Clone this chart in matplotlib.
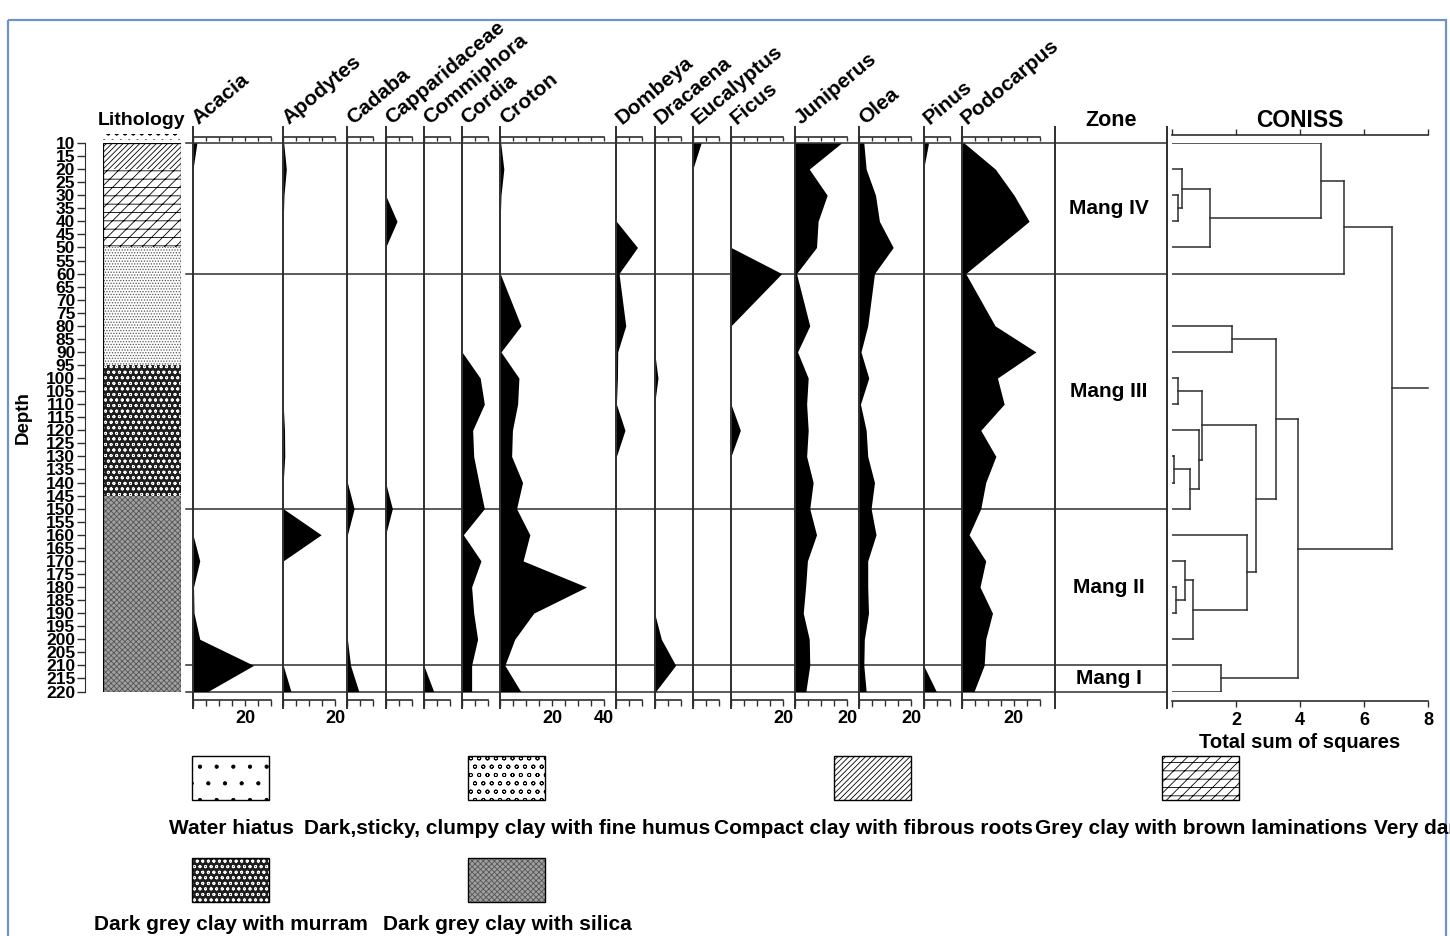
import matplotlib
matplotlib.use('Agg')
import matplotlib.pyplot as plt
from matplotlib.patches import Rectangle
from matplotlib.ticker import MultipleLocator, FuncFormatter

plt.rcParams['font.family'] = ['Liberation Sans', 'DejaVu Sans']
plt.rcParams['font.weight'] = 'bold'
plt.rcParams['axes.labelweight'] = 'bold'
plt.rcParams['hatch.linewidth'] = 0.6

# ---- data -------------------------------------------------------------
# sample depths (cm), there is no sample at 70 cm
depths = [10, 20, 30, 40, 50, 60, 80, 90, 100, 110, 120, 130, 140, 150,
          160, 170, 180, 190, 200, 210, 220]

taxa = ['Acacia', 'Apodytes', 'Cadaba', 'Capparidaceae', 'Commiphora',
        'Cordia', 'Croton', 'Dombeya', 'Dracaena', 'Eucalyptus', 'Ficus',
        'Juniperus', 'Olea', 'Pinus', 'Podocarpus']
axis_max = [30, 20, 10, 10, 10, 10, 40, 10, 10, 10, 20, 20, 20, 10, 30]

acacia = [1.5, 0, 0, 0, 0, 0, 0, 0, 0, 0, 0, 0, 0, 0, 0, 2.6, 0.2, 0.4, 2.6, 23.3, 5.7]
apodytes = [0.2, 1.2, 0.3, 0, 0, 0, 0, 0, 0, 0, 0.5, 0.6, 0, 0, 14.6, 0, 0, 0, 0, 0, 3.0]
cadaba = [0, 0, 0, 0, 0, 0, 0, 0, 0, 0, 0, 0, 0, 2.6, 0, 0, 0, 0, 0, 1.2, 4.4]
capparidaceae = [0, 0, 0, 4.4, 0, 0, 0, 0, 0, 0, 0, 0, 0, 2.6, 0, 0, 0, 0, 0, 0, 0]
commiphora = [0, 0, 0, 0, 0, 0, 0, 0, 0, 0, 0, 0, 0, 0, 0, 0, 0, 0, 0, 0, 3.8]
cordia = [0, 0, 0, 0, 0, 0, 0, 0, 7.0, 8.6, 4.1, 4.5, 6.5, 8.6, 0.5, 7.3, 3.7, 4.5, 6.0, 3.7, 3.7]
croton = [0.2, 1.4, 0.3, 0, 0, 0, 8.0, 0.3, 7.2, 6.7, 4.7, 4.4, 8.6, 6.3, 11.4, 8.8, 33.2, 12.9, 5.6, 1.8, 7.9]
dombeya = [0, 0, 0, 0, 8.1, 1.0, 3.6, 0.5, 0.4, 0, 3.3, 0, 0, 0, 0, 0, 0, 0, 0, 0, 0]
dracaena = [0, 0, 0, 0, 0, 0, 0, 0, 1.3, 0, 0, 0, 0, 0, 0, 0, 0, 0, 2.6, 8.1, 0.4]
eucalyptus = [3.2, 0, 0, 0, 0, 0, 0, 0, 0, 0, 0, 0, 0, 0, 0, 0, 0, 0, 0, 0, 0]
ficus = [0, 0, 0, 0, 0, 19.5, 0, 0, 0, 0, 3.6, 0, 0, 0, 0, 0, 0, 0, 0, 0, 0]
juniperus = [17.8, 5.4, 12.3, 8.8, 8.2, 0.5, 5.6, 0.9, 5.0, 4.4, 5.0, 4.4, 6.9, 5.6, 8.2, 4.7, 4.0, 3.1, 5.4, 5.6, 4.1]
olea = [1.7, 2.6, 6.2, 7.7, 13.0, 5.8, 3.2, 0.6, 3.6, 0.4, 2.6, 3.2, 5.8, 4.5, 6.4, 3.2, 3.2, 3.5, 1.9, 1.7, 2.6]
pinus = [1.9, 0, 0, 0, 0, 0, 0, 0, 0, 0, 0, 0, 0, 0, 0, 0, 0, 0, 0, 0, 4.9]
podocarpus = [0.9, 12.9, 20.1, 25.9, 13.7, 1.5, 12.8, 28.5, 13.7, 16.3, 7.3, 13.1, 9.2, 7.3, 2.8, 9.2, 7.0, 11.8, 9.2, 8.6, 4.7]

counts = [acacia, apodytes, cadaba, capparidaceae, commiphora, cordia, croton,
          dombeya, dracaena, eucalyptus, ficus, juniperus, olea, pinus, podocarpus]

# zones
zone_bounds = [10, 60, 150, 210, 220]
zone_names = ['Mang IV', 'Mang III', 'Mang II', 'Mang I']

# lithology
lith_top = [6.5, 10, 20, 50, 95, 145]
lith_base = [9, 20, 50, 95, 145, 220]
lith_type = ['clumpy', 'fibrous', 'laminated', 'very_dark', 'murram', 'silica']

legend_types = ['water', 'clumpy', 'fibrous', 'laminated', 'very_dark', 'murram', 'silica']
legend_labels = ['Water hiatus', 'Dark,sticky, clumpy clay with fine humus',
                 'Compact clay with fibrous roots', 'Grey clay with brown laminations',
                 'Very dark grey clay with humus', 'Dark grey clay with murram',
                 'Dark grey clay with silica']

# CONISS merges: (node a, node b, total sum of squares); new nodes numbered from 21
coniss_a = [2, 1, 22, 0, 24, 6, 8, 11, 28, 10, 27, 16, 15, 33, 14, 31, 26, 19, 37, 25]
coniss_b = [3, 21, 4, 23, 5, 7, 9, 12, 13, 29, 30, 17, 32, 18, 34, 35, 36, 20, 38, 39]
coniss_h = [0.18, 0.30, 1.19, 4.66, 5.39, 1.89, 0.20, 0.06, 0.56, 0.85, 0.93,
            0.12, 0.41, 0.65, 2.35, 2.61, 3.24, 1.53, 3.93, 6.87]

# ---- styles -----------------------------------------------------------
# face colour, hatch, hatch colour
patterns = {
    'water': ('white', '.', 'black'),
    'clumpy': ('white', 'oo', 'black'),
    'fibrous': ('white', '//////', 'black'),
    'laminated': ('white', '--///', 'black'),
    'very_dark': ('white', '......', '#555555'),
    'murram': ('#1e1e1e', 'ooo', 'white'),
    'silica': ('#a0a0a0', 'xxxxxx', '#555555'),
}

LINE = '#2e2e2e'
W, H = 1450, 936
TOP, BOT = 143, 691.5
PX_PER_PCT = 2.6
GAP = 12.2
EXT = 16 / (BOT - TOP)   # column lines stick out past the data frame

fig = plt.figure(figsize=(W / 100, H / 100), dpi=100)


def px_axes(x0, y0, x1, y1):
    return fig.add_axes([x0 / W, 1 - y1 / H, (x1 - x0) / W, (y1 - y0) / H])


def swatch(ax, x, y, w, h, kind, **kw):
    face, hatch, hcol = patterns[kind]
    ax.add_patch(Rectangle((x, y), w, h, facecolor=face, hatch=hatch,
                           edgecolor=hcol, lw=0, **kw))


# zone boundaries and core top/base run through all the columns
frame = px_axes(186, TOP, 1167, BOT)
frame.set_ylim(220, 10)
frame.axis('off')
for d in zone_bounds:
    frame.axhline(d, color=LINE, lw=1.1, clip_on=False)

# ---- lithology column ---------------------------------------------------
lith = px_axes(103, TOP, 181, BOT)
lith.set_xlim(0, 1)
lith.set_ylim(220, 10)
lith.patch.set_visible(False)
for t, b, k in zip(lith_top, lith_base, lith_type):
    swatch(lith, 0, t, 1, b - t, k, clip_on=False)
lith.add_patch(Rectangle((0, zone_bounds[0]), 1, zone_bounds[-1] - zone_bounds[0],
                         fill=False, edgecolor='black', lw=0.9))
for s in ['top', 'right', 'bottom']:
    lith.spines[s].set_visible(False)
lith.spines['left'].set_position(('outward', 13))
lith.spines['left'].set_color(LINE)
lith.set_xticks([])
lith.set_yticks(range(10, 221, 5))
lith.tick_params(axis='y', length=6, width=1, pad=1, labelsize=12.5, color=LINE)
lith.set_ylabel('Depth', fontsize=13.5, labelpad=10)
lith.annotate('Lithology', xy=(0.5, 1), xycoords='axes fraction', xytext=(0, 16),
              textcoords='offset points', ha='center', va='center', fontsize=14)

# ---- pollen columns -----------------------------------------------------
label_fmt = FuncFormatter(lambda v, p: '%d' % v if v > 0 and round(v) % 20 == 0 else '')
x = 193
for name, vmax, vals in zip(taxa, axis_max, counts):
    w = vmax * PX_PER_PCT
    ax = px_axes(x, TOP, x + w, BOT)
    ax.fill_betweenx(depths, 0, vals, color='black', lw=0)
    ax.set_xlim(0, vmax)
    ax.set_ylim(220, 10)
    ax.patch.set_visible(False)
    for s in ['left', 'right', 'top']:
        ax.spines[s].set_visible(False)
    ax.spines['bottom'].set_position(('outward', 6))
    ax.spines['bottom'].set_color(LINE)
    ax.spines['bottom'].set_linewidth(1.2)
    ax.axvline(0, ymin=-EXT, ymax=1 + EXT, color=LINE, lw=1.4, clip_on=False)
    ax.set_yticks([])
    ax.xaxis.set_major_locator(MultipleLocator(5))
    ax.xaxis.set_major_formatter(label_fmt)
    ax.tick_params(axis='x', direction='out', length=4, width=1, pad=3,
                   labelsize=13, color=LINE)
    top_ax = ax.secondary_xaxis(1 + 6 / (BOT - TOP))
    top_ax.xaxis.set_major_locator(MultipleLocator(5))
    top_ax.tick_params(axis='x', direction='in', length=3, width=1,
                       labeltop=False, color=LINE)
    top_ax.spines['top'].set_color(LINE)
    top_ax.spines['top'].set_linewidth(1.2)
    ax.annotate(name, xy=(0, 1), xycoords='axes fraction', xytext=(4, 13),
                textcoords='offset points', rotation=40, rotation_mode='anchor',
                ha='left', va='baseline', fontsize=15)
    x += w + GAP

# ---- zones ---------------------------------------------------------------
zax = px_axes(1055, TOP, 1167, BOT)
zax.set_xlim(0, 1)
zax.set_ylim(220, 10)
zax.axis('off')
for xv in (0, 1):
    zax.axvline(xv, ymin=-EXT, ymax=1 + EXT, color=LINE, lw=1.4, clip_on=False)
for i, nm in enumerate(zone_names):
    mid = (zone_bounds[i] + zone_bounds[i + 1]) / 2
    zax.text(0.48, mid, nm, ha='center', va='center', fontsize=15)
zax.annotate('Zone', xy=(0.5, 1), xycoords='axes fraction', xytext=(0, 16),
             textcoords='offset points', ha='center', va='center', fontsize=15.5)

# ---- CONISS dendrogram ------------------------------------------------
cax = px_axes(1172, TOP, 1428, BOT)
cax.set_xlim(0, 8)
cax.set_ylim(220, 10)
cax.patch.set_visible(False)
for s in ['left', 'right']:
    cax.spines[s].set_visible(False)
cax.spines['top'].set_position(('outward', 6))
cax.spines['bottom'].set_position(('outward', 7))
for s in ['top', 'bottom']:
    cax.spines[s].set_color(LINE)
    cax.spines[s].set_linewidth(1.2)
cax.set_yticks([])
cax.set_xticks([0, 2, 4, 6, 8])
cax.xaxis.set_major_formatter(FuncFormatter(lambda v, p: '%d' % v if v > 0 else ''))
cax.tick_params(axis='x', top=True, direction='out', length=4, width=1,
                labelsize=13, color=LINE)
cax.set_xlabel('Total sum of squares', fontsize=14.5, labelpad=3)
cax.annotate('CONISS', xy=(0.5, 1), xycoords='axes fraction', xytext=(0, 16),
             textcoords='offset points', ha='center', va='center', fontsize=16.5)

node_y = list(depths)
node_h = [0.0] * len(depths)
for a, b, h in zip(coniss_a, coniss_b, coniss_h):
    for c in (a, b):
        cax.plot([node_h[c], h], [node_y[c], node_y[c]], color=LINE, lw=1.1)
    cax.plot([h, h], [node_y[a], node_y[b]], color=LINE, lw=1.1)
    node_y.append((node_y[a] + node_y[b]) / 2)
    node_h.append(h)
cax.plot([node_h[-1], 8], [node_y[-1], node_y[-1]], color=LINE, lw=1.1, clip_on=False)

# ---- lithology key ------------------------------------------------------
key = fig.add_axes([0, 0, 1, 1])
key.set_xlim(0, W)
key.set_ylim(H, 0)
key.axis('off')
key_x = [231, 507, 873, 1201, 1530, 231, 507]
key_row = [0, 0, 0, 0, 0, 1, 1]
row_top = [756, 858]
row_text = [828, 925]
for kind, lab, cx, r in zip(legend_types, legend_labels, key_x, key_row):
    swatch(key, cx - 38.5, row_top[r], 77, 44, kind)
    key.add_patch(Rectangle((cx - 38.5, row_top[r]), 77, 44, fill=False,
                            edgecolor='black', lw=1))
    key.text(cx, row_text[r], lab, ha='center', va='center', fontsize=15)

# outer border
key.add_patch(Rectangle((8, 20), 1438, 940, fill=False, edgecolor='#6d93cb', lw=1.6,
                        clip_on=False))

fig.savefig('out.png', dpi=100)
